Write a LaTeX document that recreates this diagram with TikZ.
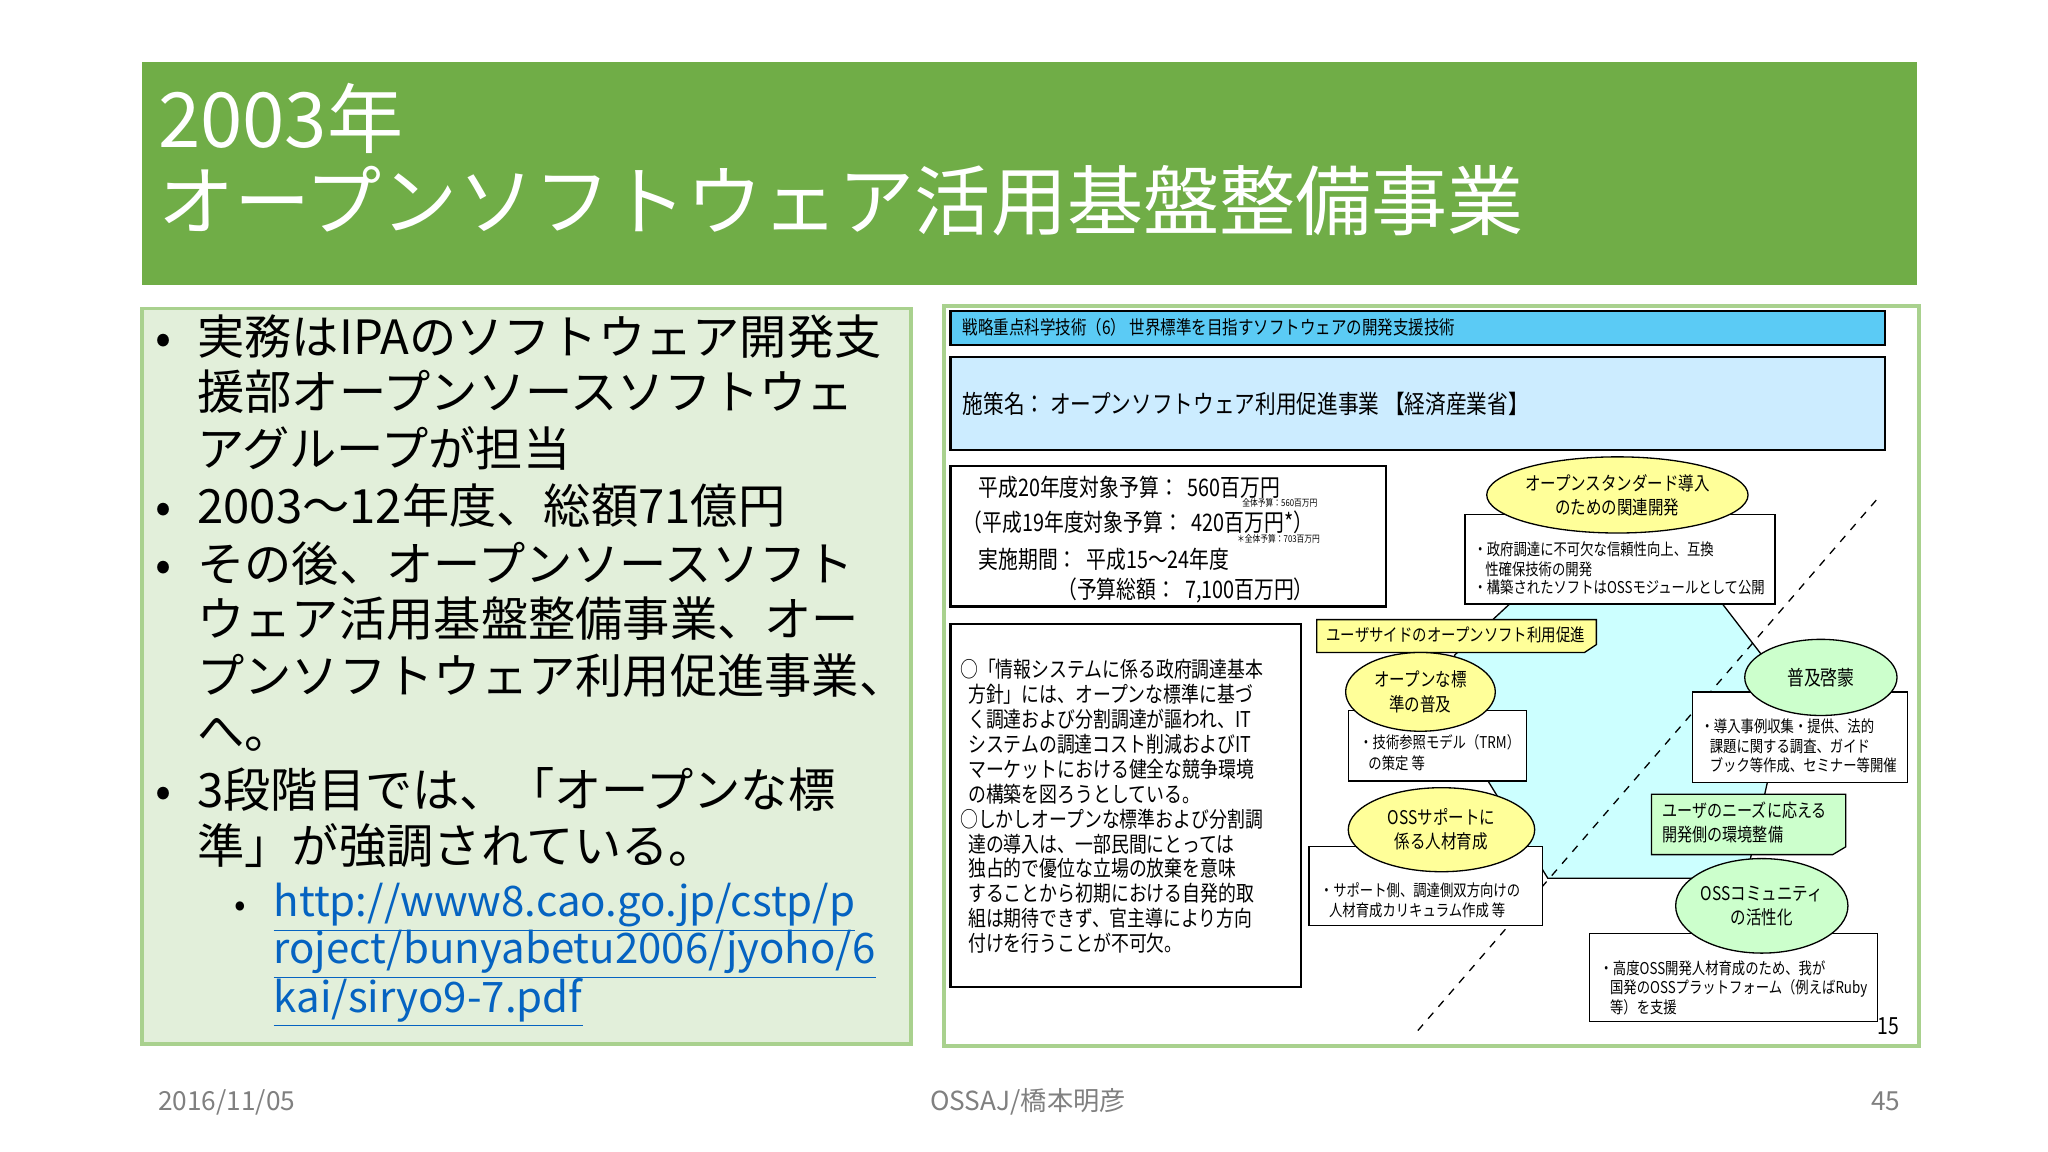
\documentclass[tikz,border=0pt]{standalone}
\usepackage{fontspec}
\setmainfont{Noto Sans CJK JP}
\newfontfamily\cond[FakeStretch=0.82]{Noto Sans CJK JP}
\usetikzlibrary{shapes.geometric}
\definecolor{titlegreen}{HTML}{70AD47}
\definecolor{lgfill}{HTML}{E2EFDA}
\definecolor{lgborder}{HTML}{A9D18E}
\definecolor{hdrblue}{HTML}{5BCBF5}
\definecolor{lblue}{HTML}{CCECFF}
\definecolor{cyanfill}{HTML}{CCFFFF}
\definecolor{yel}{HTML}{FFFF99}
\definecolor{grn}{HTML}{CCFFCC}
\definecolor{linkblue}{HTML}{0563C1}
\definecolor{footgray}{HTML}{808080}
\newcommand{\fs}[1]{\fontsize{#1}{#1}\selectfont}
\tikzset{
 x=0.5pt,y=-0.5pt,
 bul/.style={anchor=base west,inner sep=0,font=\fs{18}},
 lnk/.style={anchor=base west,inner sep=0,font=\fs{16},text=linkblue},
 sm/.style={anchor=base west,inner sep=0,font=\cond\fs{6.2}},
 md/.style={anchor=base west,inner sep=0,font=\cond\fs{9.2}},
 body/.style={anchor=base west,inner sep=0,font=\cond\fs{8.3}},
 blk/.style={draw=black,line width=0.8pt},
 oval/.style={ellipse,draw=black,line width=0.5pt,inner sep=0,align=center,font=\cond\fontsize{7.2}{9.2}\selectfont},
 thin/.style={draw=black,line width=0.5pt,fill=white},
}
\begin{document}
\begin{tikzpicture}
\useasboundingbox[fill=white] (0,0) rectangle (1560,877.5);
% title
\fill[titlegreen] (108,47) rectangle (1460,217);
\node[anchor=base west,inner sep=0,text=white,font=\fs{29}] (t1) at (120,112) {2003年};
\node[anchor=base west,inner sep=0,text=white,font=\fs{29}] (t2) at (120,175) {オープンソフトウェア活用基盤整備事業};
% left box
\draw[fill=lgfill,draw=lgborder,line width=1.5pt] (108,235) rectangle (694,795);
\foreach \y/\t [count=\i] in {
 258/実務はIPAのソフトウェア開発支,
 300/援部オープンソースソフトウェ,
 343/アグループが担当,
 387/2003～12年度、総額71億円,
 431/その後、オープンソースソフト,
 473/ウェア活用基盤整備事業、オー,
 516/プンソフトウェア利用促進事業、,
 558/へ。,
 603/3段階目では、「オープンな標,
 646/準」が強調されている。}
 {\node[bul] (b\i) at (150,\y+12) {\t};}
\foreach \y [count=\i] in {258,387,431,603}
 {\node[bul] (d\i) at (118,\y+12) {•};}
\node[anchor=base west,inner sep=0,font=\fs{13}] (d5) at (178,698) {•};
\node[lnk] (l1) at (208,698) {\underline{http://www8.cao.go.jp/cstp/p}};
\node[lnk] (l2) at (208,734) {\underline{roject/bunyabetu2006/jyoho/6}};
\node[lnk] (l3) at (208,771) {\underline{kai/siryo9-7.pdf}};
% right box
\draw[fill=white,draw=lgborder,line width=1.5pt] (719,233) rectangle (1462,797);
\draw[blk,fill=hdrblue] (724,237) rectangle (1436,263);
\node[md,font=\cond\fs{7.2}] (h1) at (733,255) {戦略重点科学技術（6）\ 世界標準を目指すソフトウェアの開発支援技術};
\draw[blk,fill=lblue] (724,272) rectangle (1436,343);
\node[md,font=\cond\fs{9.6}] (h2) at (733,315) {施策名：\ オープンソフトウェア利用促進事業\ 【経済産業省】};
% budget box
\draw[blk,fill=white] (724,355) rectangle (1056,462);
\node[md] (bu1) at (745,378) {平成20年度対象予算：\ \ 560百万円};
\node[sm,font=\cond\fs{3.6}] (bu1s) at (946,386) {全体予算：560百万円};
\node[md] (bu2) at (733,405) {（平成19年度対象予算：\ \ 420百万円*）};
\node[sm,font=\cond\fs{3.6}] (bu2s) at (942,413) {＊全体予算：703百万円};
\node[md] (bu3) at (745,433) {実施期間：\ \ 平成15～24年度};
\node[md] (bu4) at (805,456) {（予算総額：\ \ 7,100百万円）};
% left text box
\draw[blk,fill=white] (724,475) rectangle (991,752);
\foreach \y/\t [count=\i] in {
 516/○「情報システムに係る政府調達基本,
 535/\ \ 方針」には、オープンな標準に基づ,
 554/\ \ く調達および分割調達が謳われ、IT,
 573/\ \ システムの調達コスト削減およびIT,
 592/\ \ マーケットにおける健全な競争環境,
 611/\ \ の構築を図ろうとしている。,
 630/○しかしオープンな標準および分割調,
 649/\ \ 達の導入は、一部民間にとっては,
 668/\ \ 独占的で優位な立場の放棄を意味,
 687/\ \ することから初期における自発的取,
 706/\ \ 組は期待できず、官主導により方向,
 725/\ \ 付けを行うことが不可欠。}
 {\node[body] (p\i) at (731,\y) {\t};}
% cyan polygon
\draw[fill=cyanfill,line width=0.5pt] (1150,460) -- (1312,460) -- (1362,525) -- (1330,669) -- (1179,669) -- (1112,560) -- (1108,499) -- cycle;
% dashed line
\coordinate (da) at (1080,785);
\coordinate (db) at (1430,380);
\draw[dashed,line width=0.5pt] (da) -- (db);
% top item
\draw[thin] (1116,392) rectangle (1352,460);
\node[oval,fill=yel,minimum width=98pt,minimum height=29pt] (e1) at (1232,377) {オープンスタンダード導入\\のための関連開発};
\node[sm] (e1a) at (1122,423) {・政府調達に不可欠な信頼性向上、互換};
\node[sm] (e1b) at (1131,438) {性確保技術の開発};
\node[sm] (e1c) at (1122,452) {・構築されたソフトはOSSモジュールとして公開};
% callout yellow
\draw[thin,fill=yel] (1003,472) -- (1216,472) -- (1216,491) -- (1207,497) -- (1003,497) -- cycle;
\node[sm,font=\cond\fs{6.7}] (c1) at (1010,489) {ユーザサイドのオープンソフト利用促進};
% open standard
\draw[thin] (1027,541) rectangle (1163,595);
\node[oval,fill=yel,minimum width=57pt,minimum height=30pt] (e2) at (1082,527) {オープンな標\\準の普及};
\node[sm] (e2a) at (1035,570) {・技術参照モデル（TRM）};
\node[sm] (e2b) at (1042,586) {の策定\ 等};
% OSS support
\draw[thin] (997,645) rectangle (1175,705);
\node[oval,fill=yel,minimum width=71pt,minimum height=32pt] (e3) at (1098,632) {OSSサポートに\\係る人材育成};
\node[sm] (e3a) at (1005,683) {・サポート側、調達側双方向けの};
\node[sm] (e3b) at (1012,698) {人材育成カリキュラム作成\ 等};
% 普及啓蒙
\draw[thin] (1289,527) rectangle (1453,596);
\node[oval,fill=grn,minimum width=58pt,minimum height=29pt,font=\cond\fs{7.8}] (e4) at (1387,516) {普及啓蒙};
\node[sm] (e4a) at (1295,558) {・導入事例収集・提供、法的};
\node[sm] (e4b) at (1302,573) {課題に関する調査、ガイド};
\node[sm] (e4c) at (1302,588) {ブック等作成、セミナー等開催};
% green callout
\draw[thin,fill=grn] (1258,605) -- (1406,605) -- (1406,645) -- (1396,651) -- (1258,651) -- cycle;
\node[sm,font=\cond\fs{7}] (c2) at (1266,623) {ユーザのニーズに応える};
\node[sm,font=\cond\fs{7}] (c3) at (1266,641) {開発側の環境整備};
% OSS community
\draw[thin] (1211,711) rectangle (1430,778);
\node[oval,fill=grn,minimum width=65pt,minimum height=36pt] (e5) at (1342,690) {OSSコミュニティ\\の活性化};
\node[sm] (e5a) at (1218,742) {・高度OSS開発人材育成のため、我が};
\node[sm] (e5b) at (1226,757) {国発のOSSプラットフォーム（例えばRuby};
\node[sm] (e5c) at (1226,772) {等）を支援};
\node[anchor=base west,inner sep=0,font=\cond\fs{9}] (n15) at (1430,788) {15};
% footer
\node[anchor=base west,inner sep=0,font=\fs{10},text=footgray] (f1) at (120,846) {2016/11/05};
\node[anchor=base,inner sep=0,font=\fs{10},text=footgray] (f2) at (783,846) {OSSAJ/橋本明彦};
\node[anchor=base east,inner sep=0,font=\fs{10},text=footgray] (f3) at (1448,846) {45};
\end{tikzpicture}
\end{document}
